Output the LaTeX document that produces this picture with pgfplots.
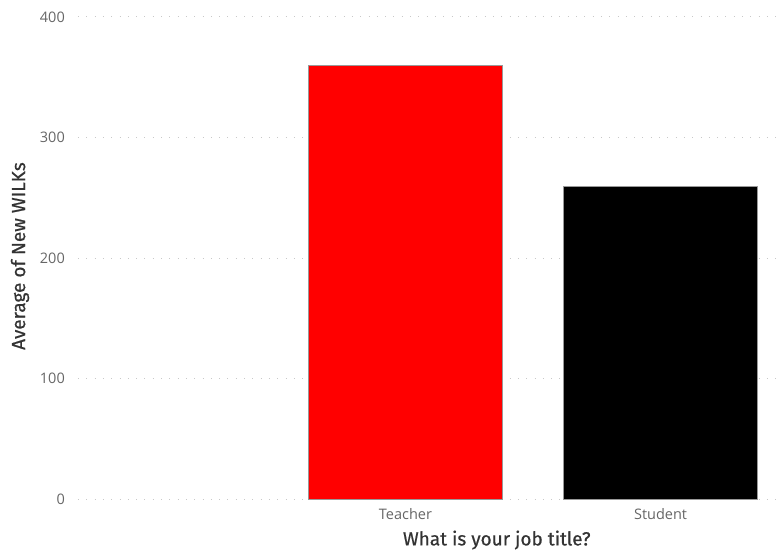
\documentclass[border=0pt]{standalone}
\usepackage{pgfplots}
\pgfplotsset{compat=1.18}
\usepackage{fontspec}
\setmainfont{Open Sans}
\newfontfamily\titlefont[FakeBold=0.6]{Fira Sans}
\definecolor{tickgray}{HTML}{666666}
\definecolor{titlegray}{HTML}{333333}
\definecolor{gridgray}{HTML}{C8C8C8}
\begin{document}
\begin{tikzpicture}[x=1pt,y=1pt]
\path[use as bounding box] (-78,-52) rectangle (705,499);
\begin{axis}[
  at={(0,0)}, anchor=south west,
  scale only axis, width=705pt, height=482pt,
  xmin=-0.284, xmax=2.48,
  ymin=0, ymax=400,
  ytick={0,100,200,300,400},
  xtick={1,2}, xticklabels={Teacher,Student},
  axis line style={draw=none},
  major tick length=0pt,
  ymajorgrids,
  grid style={gridgray, line width=1pt, dash pattern=on 1pt off 7.3pt},
  ybar, bar width=193.5pt,
  yticklabel style={anchor=east, inner sep=0pt, xshift=-13pt, font=\fontsize{14.5}{15}\selectfont, text=tickgray},
  xticklabel style={anchor=center, inner sep=0pt, yshift=-15pt, font=\fontsize{14.5}{15}\selectfont, text=tickgray},
  /pgf/number format/assume math mode=true,
  xlabel={What is your job title?},
  ylabel={Average of New WILKs},
  xlabel style={at={(rel axis cs:0.594,0)}, anchor=center, yshift=-41pt, inner sep=0pt, font=\titlefont\fontsize{19}{20}\selectfont, text=titlegray},
  ylabel style={at={(rel axis cs:0,0.504)}, anchor=center, yshift=58pt, inner sep=0pt, font=\titlefont\fontsize{19}{20}\selectfont, text=titlegray},
  clip=false,
]
\addplot[fill={rgb,255:red,255;green,0;blue,0}, draw=gray!80, line width=0.7pt, bar shift=0pt] coordinates {(1,359.6)};
\addplot[fill=black, draw=gray!80, line width=0.7pt, bar shift=0pt] coordinates {(2,259.2)};
\end{axis}
\end{tikzpicture}
\end{document}
